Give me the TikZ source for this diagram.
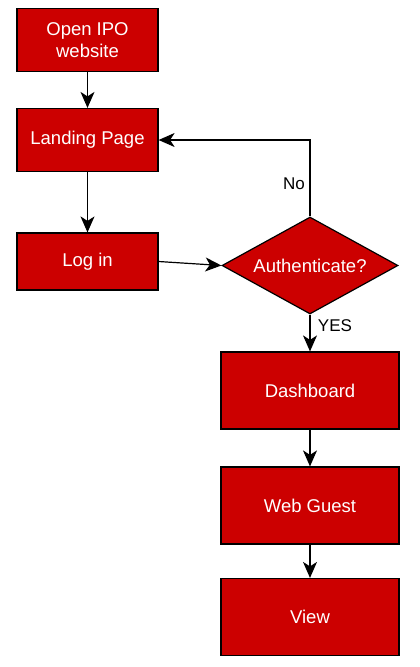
\documentclass[tikz,border=0pt]{standalone}
\usepackage{fontspec}
\setmainfont{Liberation Sans}
\usetikzlibrary{shapes.geometric,arrows.meta}

\definecolor{boxred}{HTML}{CC0000}

\begin{document}
\begin{tikzpicture}[x=1pt,y=-1pt,
  box/.style={draw=black, fill=boxred, text=white, line width=1.2pt,
    minimum width=141pt, minimum height=63pt, inner sep=0pt, align=center,
    font=\fontsize{18.5}{22}\selectfont},
  bigbox/.style={box, minimum width=178pt, minimum height=77pt},
  decide/.style={diamond, aspect=1.81, draw=black, fill=boxred, text=white,
    line width=1.2pt, minimum width=176pt, minimum height=97pt, inner sep=0pt,
    font=\fontsize{18.5}{22}\selectfont},
  flow/.style={-{Stealth[length=16pt,width=14pt,inset=4.5pt]}, line width=1.2pt},
  lbl/.style={font=\fontsize{17}{20}\selectfont}]

\useasboundingbox (0,0) rectangle (420,667);

\node[box] (open) at (87.5,40) {Open IPO\\website};
\node[box] (landing) at (87.5,140) {Landing Page};
\node[box, minimum height=57pt] (login) at (87.5,261.5) {Log in};

\node[decide] (auth) at (310,265.5) {Authenticate?};

\node[bigbox] (dash) at (310,390.5) {Dashboard};
\node[bigbox] (guest) at (310,505.5) {Web Guest};
\node[bigbox] (view) at (310,617) {View};

\coordinate (bend) at (310,140);

\draw[flow] (open) -- (landing);
\draw[flow] (landing) -- (login);
\draw[flow] (login.east) -- (auth.west);
\draw[flow] (auth.north) -- (bend) -- (landing.east);
\draw[flow] (auth.south) -- (dash.north);
\draw[flow] (dash) -- (guest);
\draw[flow] (guest) -- (view);

\node[lbl] (no) at (294,184) {No};
\node[lbl] (yes) at (335,326) {YES};

\end{tikzpicture}
\end{document}
